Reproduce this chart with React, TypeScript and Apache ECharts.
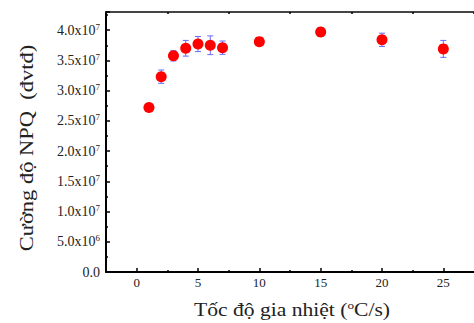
import React, { useEffect, useRef } from "react";
import * as echarts from "echarts";

const rates = [1, 2, 3, 4, 5, 6, 7, 10, 15, 20, 25];
const npq = [27.2e6, 32.3e6, 35.75e6, 37.0e6, 37.7e6, 37.5e6, 37.1e6, 38.1e6, 39.7e6, 38.4e6, 36.9e6];
const npqErr = [0.3e6, 1.1e6, 0.85e6, 1.3e6, 1.25e6, 1.55e6, 1.1e6, 0.3e6, 0.75e6, 1.1e6, 1.4e6];
const xMajorTicks = [0, 5, 10, 15, 20, 25];
const xMinorTicks = [2.5, 7.5, 12.5, 17.5, 22.5];
const xTopTicks = [-2.5, 2.5, 7.5, 12.5, 17.5, 22.5, 27.5];
const yLabels: Record<number, [string, string]> = {
  0: ["0.0", ""],
  5000000: ["5.0x10", "6"],
  10000000: ["1.0x10", "7"],
  15000000: ["1.5x10", "7"],
  20000000: ["2.0x10", "7"],
  25000000: ["2.5x10", "7"],
  30000000: ["3.0x10", "7"],
  35000000: ["3.5x10", "7"],
  40000000: ["4.0x10", "7"],
};
const xTitle = "Tốc độ gia nhiệt (";
const xTitleSup = "o";
const xTitleEnd = "C/s)";
const yTitle = "Cường độ NPQ  (đvtđ)";

const FONT = "'Liberation Serif', 'Times New Roman', serif";
const TEXT = "#222";

export default function App() {
  const ref = useRef<HTMLDivElement>(null);
  useEffect(() => {
    if (!ref.current) return;
    const chart = echarts.init(ref.current, null, { renderer: "svg" });
    const pts = rates.map((x, i) => [x, npq[i], npqErr[i]]);
    chart.setOption({
      animation: false,
      backgroundColor: "#ffffff",
      grid: { left: 106, right: -4, top: 12, bottom: 51, containLabel: false },
      xAxis: [
        {
          type: "value",
          min: -2.5,
          max: 27.5,
          position: "bottom",
          splitLine: { show: false },
          axisLine: { show: true, onZero: false, lineStyle: { color: "#000", width: 2 } },
          axisTick: { show: true, inside: true, length: 4, customValues: xMajorTicks, lineStyle: { color: "#000", width: 1.5 } },
          axisLabel: {
            customValues: xMajorTicks,
            margin: 4,
            fontFamily: FONT,
            fontSize: 13,
            color: TEXT,
          },
        },
        {
          type: "value",
          min: -2.5,
          max: 27.5,
          position: "bottom",
          splitLine: { show: false },
          axisLine: { show: false, onZero: false },
          axisTick: { show: true, inside: true, length: 2, customValues: xMinorTicks, lineStyle: { color: "#000", width: 1.5 } },
          axisLabel: { show: false },
        },
        {
          type: "value",
          min: -2.5,
          max: 27.5,
          position: "top",
          splitLine: { show: false },
          axisLine: { show: true, onZero: false, lineStyle: { color: "#444", width: 2 } },
          axisTick: { show: true, inside: true, length: 2, customValues: xTopTicks, lineStyle: { color: "#000", width: 1.5 } },
          axisLabel: { show: false },
        },
      ],
      yAxis: [
        {
          type: "value",
          min: 0,
          max: 43000000,
          interval: 5000000,
          splitLine: { show: false },
          axisLine: { show: true, onZero: false, lineStyle: { color: "#000", width: 2 } },
          axisTick: { show: true, inside: true, length: 4, lineStyle: { color: "#000", width: 1.5 } },
          minorTick: { show: true, splitNumber: 2, length: 2, lineStyle: { color: "#000", width: 1.5 } },
          axisLabel: {
            margin: 6,
            showMaxLabel: false,
            formatter: (v: number) => {
              const l = yLabels[Math.round(v)];
              if (!l) return "";
              return l[1] ? `{b|${l[0]}}{s|${l[1]}}` : `{b|${l[0]}}`;
            },
            rich: {
              b: { fontFamily: FONT, fontSize: 14, color: TEXT, lineHeight: 16 },
              s: { fontFamily: FONT, fontSize: 9, color: TEXT, verticalAlign: "top", lineHeight: 9 },
            },
          },
        },
      ],
      series: [
        {
          type: "custom",
          xAxisIndex: 0,
          yAxisIndex: 0,
          data: pts,
          encode: { x: 0, y: 1 },
          z: 1,
          renderItem: (params: any, api: any) => {
            const x = api.value(0);
            const y = api.value(1);
            const e = api.value(2);
            const hi = api.coord([x, y + e]);
            const lo = api.coord([x, y - e]);
            const cap = 3;
            const style = { stroke: "#6a6aff", lineWidth: 1 };
            return {
              type: "group",
              children: [
                { type: "line", shape: { x1: hi[0], y1: hi[1], x2: lo[0], y2: lo[1] }, style },
                { type: "line", shape: { x1: hi[0] - cap, y1: hi[1], x2: hi[0] + cap, y2: hi[1] }, style },
                { type: "line", shape: { x1: lo[0] - cap, y1: lo[1], x2: lo[0] + cap, y2: lo[1] }, style },
              ],
            };
          },
        },
        {
          type: "scatter",
          xAxisIndex: 0,
          yAxisIndex: 0,
          data: pts.map((p) => [p[0], p[1]]),
          symbol: "circle",
          symbolSize: 11,
          z: 3,
          itemStyle: { color: "#ff0000", opacity: 1 },
        },
      ],
      graphic: [
        {
          type: "text",
          x: 292,
          y: 310,
          scaleX: 1.2,
          style: {
            text: `{a|${xTitle}}{s|${xTitleSup}}{a|${xTitleEnd}}`,
            align: "center",
            verticalAlign: "middle",
            rich: {
              a: { fontFamily: FONT, fontSize: 18, fill: TEXT, lineHeight: 20 },
              s: { fontFamily: FONT, fontSize: 11, fill: TEXT, verticalAlign: "top", lineHeight: 11 },
            },
          },
        },
        {
          type: "text",
          x: 27,
          y: 148,
          rotation: Math.PI / 2,
          scaleX: 1.25,
          style: {
            text: yTitle,
            align: "center",
            verticalAlign: "middle",
            fontFamily: FONT,
            fontSize: 18,
            fill: TEXT,
          },
        },
      ],
    });
    return () => chart.dispose();
  }, []);
  return (
    <div
      ref={ref}
      style={{ position: "fixed", left: 0, top: 0, width: 474, height: 323, background: "#fff" }}
    />
  );
}
